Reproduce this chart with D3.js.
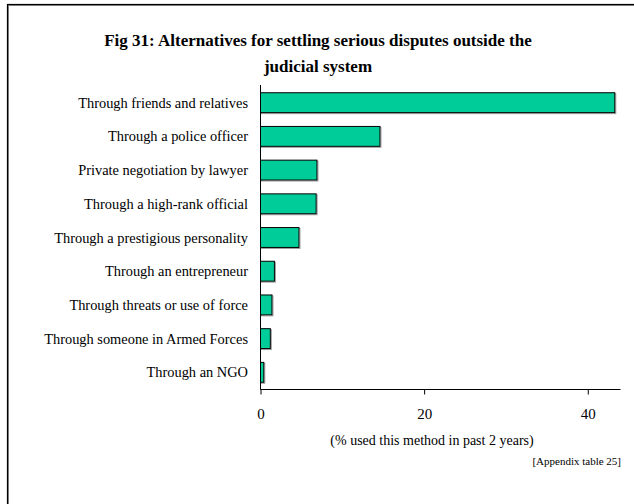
<!DOCTYPE html>
<html><head><meta charset="utf-8">
<script src="https://cdn.jsdelivr.net/npm/d3@7"></script>
<style>
html,body{margin:0;padding:0;background:#fff;}
svg{display:block;}
text{font-family:"Liberation Serif","Times New Roman",serif;fill:#000;}
</style></head>
<body>
<svg id="chart" width="634" height="504"></svg>
<script>
const categories = [
  "Through friends and relatives",
  "Through a police officer",
  "Private negotiation by lawyer",
  "Through a high-rank official",
  "Through a prestigious personality",
  "Through an entrepreneur",
  "Through threats or use of force",
  "Through someone in Armed Forces",
  "Through an NGO"
];
const values = [43.3, 14.6, 6.9, 6.8, 4.7, 1.7, 1.4, 1.2, 0.4];
const tickValues = [0, 20, 40];
const titleLines = ["Fig 31: Alternatives for settling serious disputes outside the", "judicial system"];
const axisTitle = "(% used this method in past 2 years)";
const footnote = "[Appendix table 25]";

const svg = d3.select("#chart");

// frame
svg.append("rect").attr("x", 8.5).attr("y", 5.5).attr("width", 640).attr("height", 520)
  .attr("fill", "none").attr("stroke", "#888").attr("stroke-width", 1);
svg.append("rect").attr("x", 7.5).attr("y", 4.5).attr("width", 640).attr("height", 520)
  .attr("fill", "none").attr("stroke", "#000").attr("stroke-width", 1.2);

const x = d3.scaleLinear().domain([0, 44]).range([260.5, 620.5]);
const y = d3.scaleBand().domain(categories).range([86, 389]).paddingInner(0.41).paddingOuter(0.2);

// title
svg.append("text").attr("x", 318).attr("text-anchor", "middle")
  .style("font-weight", "bold").style("font-size", "17px")
  .selectAll("tspan").data(titleLines).join("tspan")
  .attr("x", 318).attr("y", (d, i) => 46 + i * 26).text(d => d);

// bar shadows
svg.append("g").selectAll("rect").data(values).join("rect")
  .attr("x", x(0) + 1).attr("y", (d, i) => y(categories[i]) + 1)
  .attr("width", d => x(d) - x(0)).attr("height", y.bandwidth())
  .attr("fill", "none").attr("stroke", "#999").attr("stroke-width", 1);
// bars
svg.append("g").selectAll("rect").data(values).join("rect")
  .attr("x", x(0)).attr("y", (d, i) => y(categories[i]))
  .attr("width", d => x(d) - x(0)).attr("height", y.bandwidth())
  .attr("fill", "#00cc99").attr("stroke", "#000").attr("stroke-width", 1);

// y axis line
svg.append("line").attr("x1", x(0)).attr("x2", x(0)).attr("y1", 85).attr("y2", 389.5)
  .attr("stroke", "#000").attr("stroke-width", 1);

// category labels
svg.append("g").selectAll("text").data(categories).join("text")
  .attr("x", 248).attr("y", d => y(d) + y.bandwidth() / 2)
  .attr("dy", "0.35em").attr("text-anchor", "end").style("font-size", "14.4px")
  .text(d => d);

// x axis
const xAxis = d3.axisBottom(x).tickValues(tickValues).tickSize(5).tickPadding(14).tickFormat(d3.format("d"));
const gx = svg.append("g").attr("transform", "translate(0,389.5)").call(xAxis);
gx.select(".domain").attr("d", `M${x(0)},0H${x(44)}`).attr("stroke", "#000");
gx.selectAll(".tick line").attr("stroke", "#000");
gx.selectAll(".tick text").style("font-family", '"Liberation Serif","Times New Roman",serif').style("font-size", "15px");

svg.append("text").attr("x", 432).attr("y", 445).attr("text-anchor", "middle")
  .style("font-size", "14px").text(axisTitle);

svg.append("text").attr("x", 621).attr("y", 465).attr("text-anchor", "end")
  .style("font-size", "11px").text(footnote);
</script>
</body></html>
